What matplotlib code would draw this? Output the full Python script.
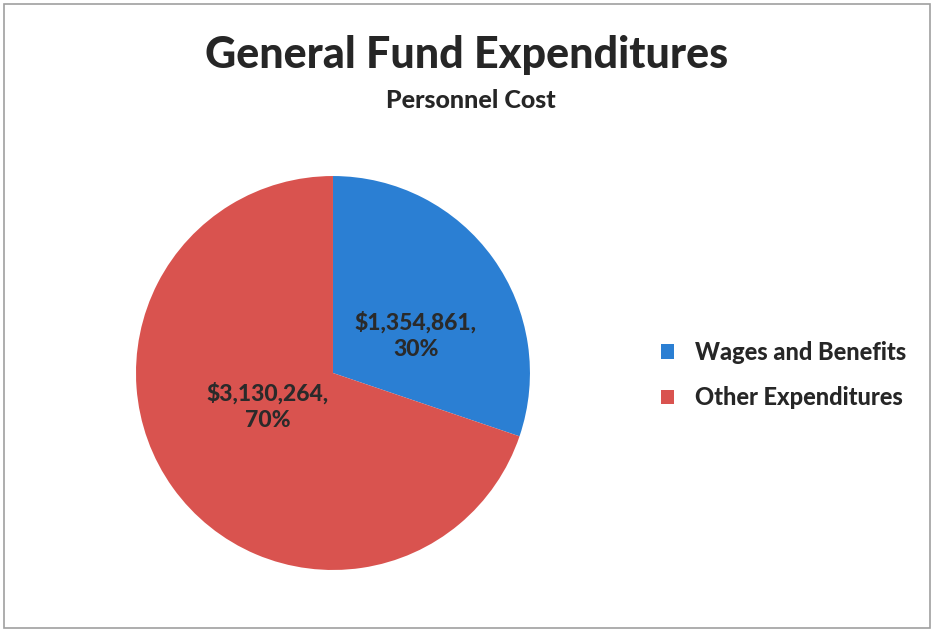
import matplotlib.pyplot as plt
from matplotlib.patches import Rectangle

plt.rcParams['font.family'] = ['Lato', 'DejaVu Sans']

categories = ['Wages and Benefits', 'Other Expenditures']
amounts = [1354861, 3130264]
colors = ['#2b7fd3', '#d9534f']
# label spots inside each wedge, in pie radius units
label_pos = [(0.42, 0.19), (-0.33, -0.17)]

fig = plt.figure(figsize=(9.34, 6.32), dpi=100)

# chart frame
fig.patches.append(Rectangle((0.004, 0.006), 0.992, 0.988, transform=fig.transFigure,
                             fill=False, edgecolor='#a0a0a0', linewidth=1.2))

ax = fig.add_axes([0.1456, 0.0981, 0.4218, 0.6234])
wedges, _ = ax.pie(amounts, colors=colors, startangle=90, counterclock=False,
                   radius=1.0, wedgeprops=dict(linewidth=0))
ax.set_xlim(-1, 1)
ax.set_ylim(-1, 1)
ax.set_aspect('equal')

total = sum(amounts)
for (x, y), val in zip(label_pos, amounts):
    ax.text(x, y, '${:,},\n{:.0f}%'.format(val, 100 * val / total),
            ha='center', va='center', fontsize=16.5, fontweight='black',
            color='#2a2a2a', linespacing=1.35)

fig.text(0.5, 1 - 55 / 632, 'General Fund Expenditures', ha='center', va='center',
         fontsize=31, fontweight='black', color='#262626')
fig.text(0.504, 1 - 100 / 632, 'Personnel Cost', ha='center', va='center',
         fontsize=18, fontweight='black', color='#262626')

fig.legend(wedges, categories, loc='center left',
           bbox_to_anchor=(640 / 934, 1 - 375 / 632), frameon=False,
           prop=dict(size=17, weight='black'), labelcolor='#262626',
           handlelength=0.55, handleheight=0.55, handletextpad=0.88,
           labelspacing=0.95)

fig.savefig('out.png', dpi=100)
